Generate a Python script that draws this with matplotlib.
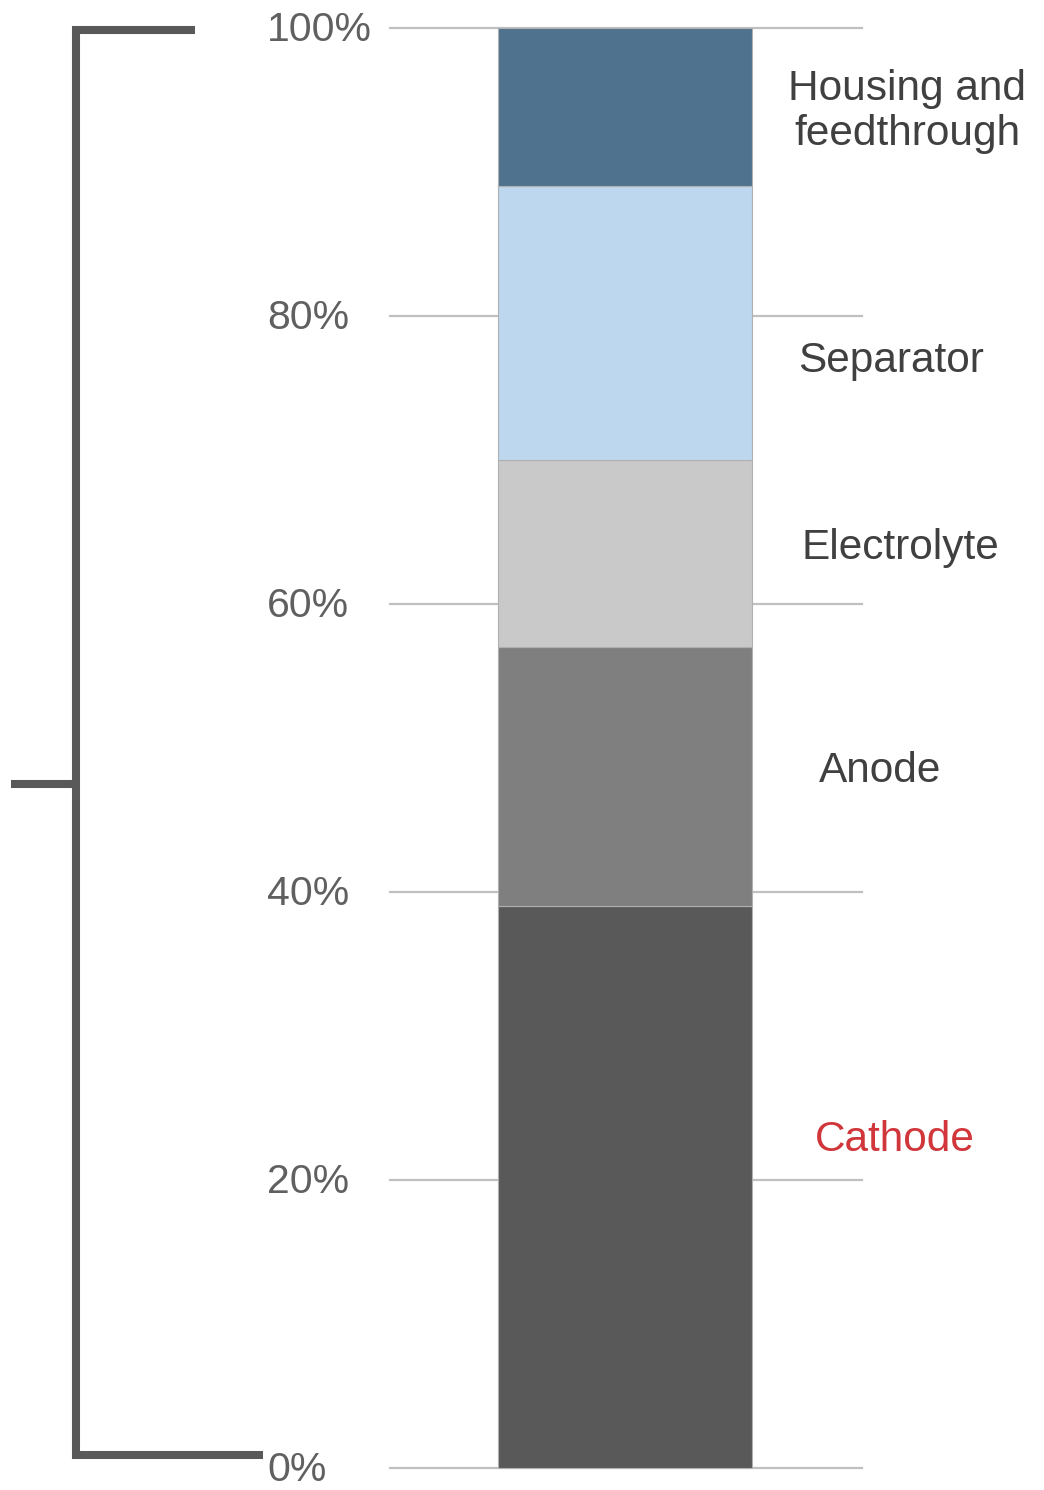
import matplotlib
matplotlib.use("Agg")
import matplotlib.pyplot as plt

# share of each component (percent), bottom to top
components = ["Cathode", "Anode", "Electrolyte", "Separator", "Housing and\nfeedthrough"]
shares = [39, 18, 13, 19, 11]
colors = ["#595959", "#7f7f7f", "#c9c9c9", "#bdd7ee", "#4f728f"]
label_y = [22.8, 48.4, 63.9, 76.9, 94.2]
label_x = [895, 880, 900, 891, 907]
label_colors = ["#d0363a", "#404040", "#404040", "#404040", "#404040"]
ticks = [0, 20, 40, 60, 80, 100]

plt.rcParams["font.family"] = ["Liberation Sans", "DejaVu Sans"]

W, H = 1044, 1490
fig = plt.figure(figsize=(W / 100, H / 100), dpi=100)
ax = fig.add_axes([0, 0, 1, 1])
# pixel mapping: 0% at y=1468, 100% at y=28 (from top)
scale = 14.4
ax.set_xlim(0, W)
ax.set_ylim(-(H - 1468) / scale, 1468 / scale)
ax.axis("off")

# gridlines + tick labels
for t in ticks:
    ax.plot([390, 862], [t, t], color="#c0c0c0", lw=1.6, zorder=1)
    ax.text(267, t - 0.15, f"{t}%", ha="left", va="center", fontsize=29.5, color="#606060")

# stacked bar
bottom = 0
for s, c in zip(shares, colors):
    ax.bar(625, s, width=254, bottom=bottom, color=c, edgecolor="#b0b0b0",
           linewidth=0.8, zorder=2)
    bottom += s

for name, y, x, c in zip(components, label_y, label_x, label_colors):
    ax.text(x, y, name, ha="center", va="center", fontsize=30.5, color=c,
            linespacing=1.15)

# bracket on the left
def py(p):
    return (1468 - p) / scale

bk = dict(color="#595959", lw=5.8, solid_capstyle="butt", solid_joinstyle="miter", zorder=3)
ax.plot([195, 76, 76, 263], [py(30.5), py(30.5), py(1455), py(1455)], **bk)
ax.plot([11, 76], [py(784.5), py(784.5)], **bk)

fig.savefig("out.png", dpi=100, facecolor="white")
